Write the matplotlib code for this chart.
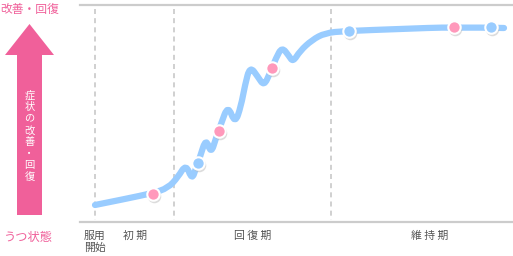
import matplotlib
matplotlib.use("Agg")
import matplotlib.pyplot as plt
from matplotlib.path import Path
from matplotlib.patches import PathPatch

plt.rcParams['font.family'] = ['Noto Sans CJK JP', 'DejaVu Sans']

# control points of the curve (x right, y down, in chart pixels)
curve_x = [95, 125, 153, 168, 178, 186, 192, 196, 200, 206, 211, 216, 221, 228, 235,
           241, 245, 250, 258, 264, 270, 276, 282, 289, 293, 300, 312, 325, 345, 400,
           454, 504]
curve_y = [205, 199, 193, 188, 177, 164, 180, 168, 157, 138, 154, 138, 124, 105, 124,
           106, 85, 66, 77, 86, 73, 58, 47, 56, 62, 51, 40, 33, 31, 29,
           27, 28]

pink_x = [153, 219, 272, 454]
pink_y = [194, 131, 68, 27]
blue_x = [198, 349, 491]
blue_y = [163, 31, 27]

phase_x = [95, 174, 331]
phase_labels = ["服用\n開始", "初 期", "回 復 期", "維 持 期"]
label_x = [95, 135, 253, 430]

PINK = "#f0609a"
LINE = "#99ccff"
DOT_PINK = "#ff99bb"
GRAY = "#cccccc"

fig = plt.figure(figsize=(5.13, 2.56), dpi=100)
ax = fig.add_axes([0, 0, 1, 1])
ax.set_xlim(0, 513)
ax.set_ylim(256, 0)
ax.axis("off")

# frame lines
ax.plot([80, 513], [5, 5], color=GRAY, lw=1.6)
ax.plot([80, 513], [222, 222], color=GRAY, lw=1.6)
for px in phase_x:
    ax.plot([px, px], [9, 220], color="#c8c8c8", lw=1.2, ls=(0, (3, 2.5)))

# smooth curve: quadratic beziers through the midpoints of the control polygon
pts = list(zip(curve_x, curve_y))
verts = [pts[0]]
codes = [Path.MOVETO]
for i in range(1, len(pts) - 1):
    mid = ((pts[i][0] + pts[i + 1][0]) / 2, (pts[i][1] + pts[i + 1][1]) / 2)
    if i == len(pts) - 2:
        mid = pts[-1]
    verts += [pts[i], mid]
    codes += [Path.CURVE3, Path.CURVE3]
ax.add_patch(PathPatch(Path(verts, codes), fill=False, edgecolor=LINE, lw=4.5,
                       capstyle="round", joinstyle="round", zorder=3))

# dots with soft shadow
ax.scatter([x + 1 for x in pink_x], [y + 1.5 for y in pink_y], s=95, color="#bbbbbb",
           alpha=0.5, lw=0, zorder=4)
ax.scatter([x + 1 for x in blue_x], [y + 1.5 for y in blue_y], s=95, color="#bbbbbb",
           alpha=0.5, lw=0, zorder=4)
ax.scatter(pink_x, pink_y, s=80, color=DOT_PINK, edgecolor="white", lw=1.5, zorder=5)
ax.scatter(blue_x, blue_y, s=80, color=LINE, edgecolor="white", lw=1.5, zorder=5)

# y-axis arrow
ax.arrow(29.5, 215, 0, -160, width=25, head_width=49, head_length=31,
         length_includes_head=False, color=PINK, lw=0, zorder=2)
ax.text(29.5, 136, "\n".join("症状の改善・回復"), color="white", fontsize=7.4,
        ha="center", va="center", linespacing=1.2, zorder=3)

ax.text(0, 9, "改善・回復", color=PINK, fontsize=8.5, ha="left", va="center")
ax.text(4, 238, "うつ状態", color=PINK, fontsize=8.8, ha="left", va="center")

# phase labels
for lx, lab in zip(label_x, phase_labels):
    ax.text(lx, 231, lab, color="#555555", fontsize=7.8, ha="center", va="top",
            linespacing=1.25)

fig.savefig("out.png", dpi=100)
